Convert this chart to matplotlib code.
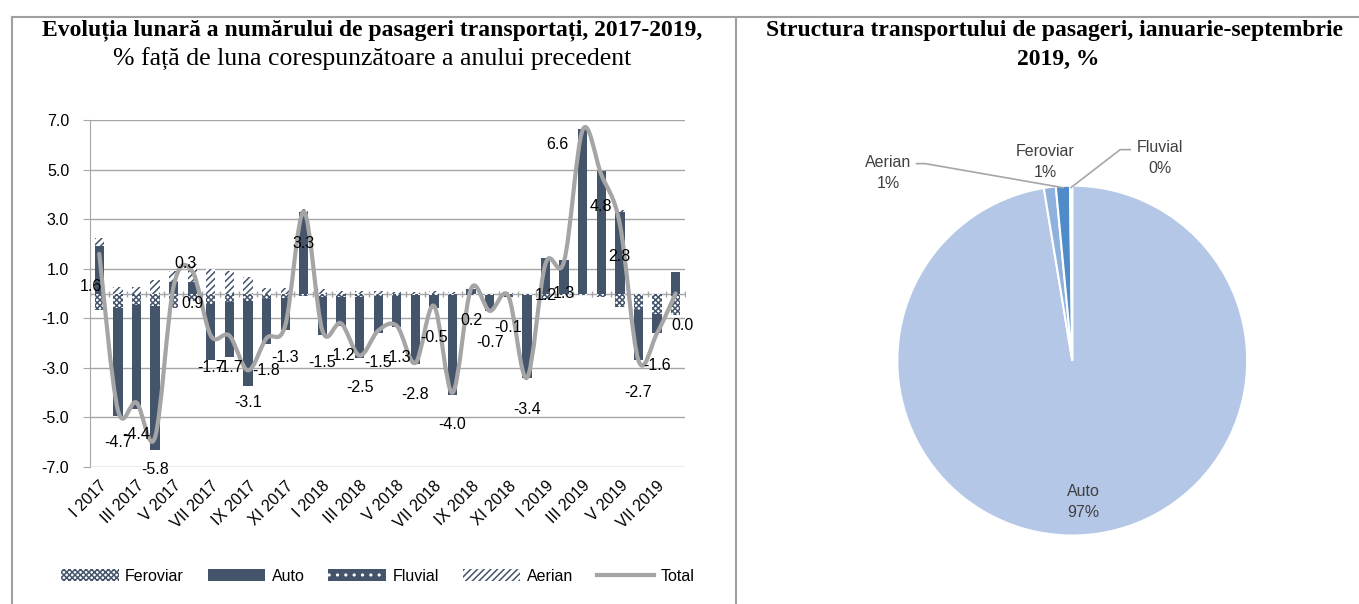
import numpy as np
import matplotlib
matplotlib.use('Agg')
import matplotlib.pyplot as plt
from matplotlib.path import Path
from matplotlib.patches import PathPatch
from matplotlib.lines import Line2D

# ---- data: monthly change vs same month of previous year, % ----
roman = ['I', 'II', 'III', 'IV', 'V', 'VI', 'VII', 'VIII', 'IX', 'X', 'XI', 'XII']
months = ([f'{m} 2017' for m in roman] + [f'{m} 2018' for m in roman]
          + [f'{m} 2019' for m in roman[:8]])

feroviar = [-0.65, -0.57, -0.45, -0.50, -0.60, -0.30, -0.43, -0.36, -0.30, -0.23, -0.20, -0.12,
            -0.16, -0.15, -0.15, -0.12, -0.10, -0.05, -0.05, -0.05, -0.04, -0.05, -0.10, -0.05,
            -0.25, -0.07, -0.05, -0.15, -0.55, -0.65, -0.83, -0.87]
auto = [1.91, -4.39, -4.20, -5.83, 0.45, 0.45, -2.26, -2.20, -3.44, -1.79, -1.28, 3.30,
        -1.52, -1.15, -2.47, -1.48, -1.25, -2.80, -0.55, -4.05, 0.20, -0.65, -0.05, -3.35,
        1.44, 1.37, 6.62, 4.95, 3.30, -2.05, -0.77, 0.87]
fluvial = [0.0] * 32
aerian = [0.31, 0.25, 0.25, 0.54, 0.45, 0.75, 0.98, 0.92, 0.65, 0.24, 0.24, 0.12,
          0.20, 0.10, 0.10, 0.10, 0.05, 0.05, 0.10, 0.05, 0.04, 0.00, 0.05, 0.00,
          0.00, 0.00, 0.00, 0.00, 0.05, 0.00, 0.00, 0.00]
total = [1.6, -4.7, -4.4, -5.8, 0.3, 0.9, -1.7, -1.7, -3.1, -1.8, -1.3, 3.3,
         -1.5, -1.2, -2.5, -1.5, -1.3, -2.8, -0.5, -4.0, 0.2, -0.7, -0.1, -3.4,
         1.2, 1.3, 6.6, 4.8, 2.8, -2.7, -1.6, 0.0]

# ---- data: structure Jan-Sep 2019, % ----
pie_labels = ['Auto', 'Feroviar', 'Aerian', 'Fluvial']
pie_values = [97.4, 1.1, 1.3, 0.2]

DARK = '#44546A'
GRID = '#A6A6A6'
SANS = ['Liberation Sans', 'DejaVu Sans']
SERIF = ['Liberation Serif', 'DejaVu Serif']
plt.rcParams['hatch.linewidth'] = 1.1

fig = plt.figure(figsize=(13.59, 6.04), dpi=100)

# frame lines
for xs, ys in [([0.009, 1.0], [0.972, 0.972]), ([0.009, 0.009], [0.972, 0.0]),
               ([0.5415, 0.5415], [0.972, 0.0])]:
    fig.add_artist(Line2D(xs, ys, transform=fig.transFigure, color='#A0A0A0', lw=1.5))

# titles
fig.text(0.274, 0.950, 'Evoluția lunară a numărului de pasageri transportați, 2017-2019,',
         ha='center', va='center', family=SERIF, weight='bold', fontsize=17)
fig.text(0.274, 0.902, '% față de luna corespunzătoare a anului precedent',
         ha='center', va='center', family=SERIF, fontsize=18.5)
fig.text(0.776, 0.950, 'Structura transportului de pasageri, ianuarie-septembrie',
         ha='center', va='center', family=SERIF, weight='bold', fontsize=17)
fig.text(0.779, 0.902, '2019, %', ha='center', va='center', family=SERIF,
         weight='bold', fontsize=17)

# ---- left: stacked bars + smoothed total ----
ax = fig.add_axes([0.0662, 0.2268, 0.4378, 0.5745])
x = np.arange(len(months))
series = [
    ('Feroviar', feroviar, dict(facecolor='white', edgecolor=DARK, hatch='xxxxxx')),
    ('Auto', auto, dict(facecolor=DARK, edgecolor=DARK)),
    ('Fluvial', fluvial, dict(facecolor=DARK, edgecolor='white', hatch='..')),
    ('Aerian', aerian, dict(facecolor='white', edgecolor=DARK, hatch='/////')),
]
pos = np.zeros(len(x))
neg = np.zeros(len(x))
for name, vals, style in series:
    v = np.array(vals)
    bottom = np.where(v >= 0, pos, neg)
    ax.bar(x, v, 0.5, bottom=bottom, label=name, linewidth=0, zorder=2, **style)
    pos += np.clip(v, 0, None)
    neg += np.clip(v, None, 0)

# smooth line (Catmull-Rom as bezier curves through the data points)
pts = np.column_stack([x, total]).astype(float)
verts = [pts[0]]
codes = [Path.MOVETO]
for i in range(len(pts) - 1):
    p0 = pts[max(i - 1, 0)]
    p1, p2 = pts[i], pts[i + 1]
    p3 = pts[min(i + 2, len(pts) - 1)]
    verts += [p1 + (p2 - p0) / 6, p2 - (p3 - p1) / 6, p2]
    codes += [Path.CURVE4] * 3
ax.add_patch(PathPatch(Path(verts, codes), facecolor='none', edgecolor='#A5A5A5',
                       lw=3, zorder=3, capstyle='round'))

label_offsets = {0: (-8, -33), 4: (12, 23), 26: (-25, -15), 31: (7, -32)}
for i, v in enumerate(total):
    dx, dy = label_offsets.get(i, (0, -32))
    ax.annotate(f'{v:.1f}', (x[i], v), xytext=(dx, dy), textcoords='offset pixels',
                ha='center', va='center', fontsize=11.5, family=SANS, zorder=4)

ax.axhline(0, color=GRID, lw=1, zorder=1)
ax.plot(np.arange(-0.5, len(x)), np.zeros(len(x) + 1), ls='none', marker='|',
        ms=5, color=GRID, zorder=1)
ax.set_xlim(-0.5, len(x) - 0.5)
ax.set_ylim(-7, 7)
ax.set_yticks(np.arange(-7, 8, 2))
ax.set_yticklabels([f'{t:.1f}' for t in np.arange(-7, 8, 2)], family=SANS, fontsize=11.5)
ax.yaxis.grid(True, color=GRID, lw=1)
ax.set_axisbelow(True)
ax.set_xticks(x[::2])
ax.set_xticklabels(months[::2], rotation=45, ha='right', rotation_mode='anchor',
                   family=SANS, fontsize=11.5)
ax.tick_params(axis='x', length=0, pad=8)
ax.tick_params(axis='y', length=5, color=GRID, pad=10)
for s in ['top', 'right', 'bottom']:
    ax.spines[s].set_visible(False)
ax.spines['left'].set_color(GRID)

handles, labels = ax.get_legend_handles_labels()
handles.append(Line2D([], [], color='#A5A5A5', lw=3))
labels.append('Total')
fig.legend(handles, labels, loc='center', bbox_to_anchor=(0.278, 0.046), ncol=5,
           frameon=False, handlelength=3.6, handleheight=0.8, columnspacing=1.5,
           handletextpad=0.4, prop={'family': SANS, 'size': 11.5})

# ---- right: pie ----
pax = fig.add_axes([0.628, 0.041, 0.322, 0.724])
pie_colors = ['#B4C7E7', '#8FB1DD', '#4F8BC9', '#DCE6F2']
wedges = pax.pie(pie_values, colors=pie_colors, startangle=90, counterclock=False,
                 wedgeprops=dict(edgecolor='white', linewidth=1.5))[0]
pax.set_xlim(-1.25, 1.25)
pax.set_ylim(-1.25, 1.25)
pax.set_aspect('equal')

tot = sum(pie_values)
pct = [f'{v / tot * 100:.0f}%' for v in pie_values]

def mid_point(w, r):
    a = np.deg2rad((w.theta1 + w.theta2) / 2)
    return np.cos(a) * r, np.sin(a) * r

txt = dict(ha='center', va='center', color='#404040', family=SANS, fontsize=11.5,
           linespacing=1.5)
ax_, ay_ = mid_point(wedges[0], 0.81)
pax.text(ax_, ay_, f'{pie_labels[0]}\n{pct[0]}', **txt)
pax.text(-0.154, 1.135, f'{pie_labels[1]}\n{pct[1]}', **txt)
pax.text(-1.05, 1.07, f'{pie_labels[2]}\n{pct[2]}', **txt)
pax.text(0.50, 1.16, f'{pie_labels[3]}\n{pct[3]}', **txt)

ex, ey = mid_point(wedges[2], 0.99)
pax.plot([-0.89, -0.84, ex], [1.126, 1.126, ey], color='#A6A6A6', lw=1.2, clip_on=False)
fx, fy = mid_point(wedges[3], 0.99)
pax.plot([0.331, 0.274, fx], [1.206, 1.206, fy], color='#A6A6A6', lw=1.2, clip_on=False)

fig.savefig('out.png', dpi=100)
